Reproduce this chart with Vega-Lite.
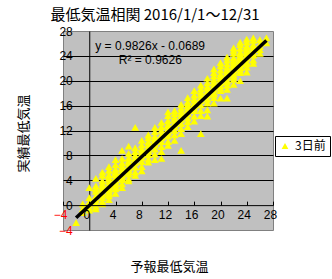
{
  "$schema": "https://vega.github.io/schema/vega-lite/v6.json",
  "width": 210,
  "height": 199,
  "autosize": "none",
  "padding": {"left": 63, "top": 31, "right": 59, "bottom": 49},
  "background": "white",
  "config": {
    "view": {"fill": "#c0c0c0", "stroke": "#808080", "strokeWidth": 1},
    "axis": {"labelFont": "Liberation Sans", "labelFontSize": 12, "titleFont": "Noto Sans CJK JP", "titleFontSize": 13, "titleFontWeight": "normal", "titleColor": "black", "domainColor": "black", "domainWidth": 1, "tickColor": "black", "labelOverlap": false, "labelFlush": false, "labelBound": false}
  },
  "title": {"text": "最低気温相関 2016/1/1～12/31", "font": "Noto Sans CJK JP", "fontSize": 15, "fontWeight": "normal", "anchor": "middle", "dx": -13, "dy": 1, "offset": 3, "color": "black"},
  "datasets": {
    "pts": [
      {"f": -2, "a": -2.8, "s": "3日前"},
      {"f": -1, "a": -1.2, "s": "3日前"}, {"f": -1, "a": 0.2, "s": "3日前"}, {"f": -1, "a": -0.6, "s": "3日前"},
      {"f": 0, "a": -0.8, "s": "3日前"}, {"f": 0, "a": 0.5, "s": "3日前"}, {"f": 0, "a": 1.2, "s": "3日前"}, {"f": 0, "a": -0.4, "s": "3日前"}, {"f": 0, "a": 2.8, "s": "3日前"}, {"f": 0, "a": 0.1, "s": "3日前"},
      {"f": 1, "a": 0.3, "s": "3日前"}, {"f": 1, "a": 1.5, "s": "3日前"}, {"f": 1, "a": 2.2, "s": "3日前"}, {"f": 1, "a": -0.6, "s": "3日前"}, {"f": 1, "a": 4.3, "s": "3日前"}, {"f": 1, "a": 1.0, "s": "3日前"}, {"f": 1, "a": 3.1, "s": "3日前"}, {"f": 1, "a": 0.8, "s": "3日前"}, {"f": 1, "a": 2.6, "s": "3日前"}, {"f": 1, "a": -0.2, "s": "3日前"},
      {"f": 2, "a": 1.2, "s": "3日前"}, {"f": 2, "a": 2.5, "s": "3日前"}, {"f": 2, "a": 3.4, "s": "3日前"}, {"f": 2, "a": 0.6, "s": "3日前"}, {"f": 2, "a": 4.8, "s": "3日前"}, {"f": 2, "a": 2.0, "s": "3日前"}, {"f": 2, "a": 3.0, "s": "3日前"}, {"f": 2, "a": 1.7, "s": "3日前"}, {"f": 2, "a": 5.3, "s": "3日前"}, {"f": 2, "a": 0.2, "s": "3日前"}, {"f": 2, "a": 2.8, "s": "3日前"}, {"f": 2, "a": 3.9, "s": "3日前"},
      {"f": 3, "a": 2.1, "s": "3日前"}, {"f": 3, "a": 3.3, "s": "3日前"}, {"f": 3, "a": 4.2, "s": "3日前"}, {"f": 3, "a": 1.5, "s": "3日前"}, {"f": 3, "a": 5.6, "s": "3日前"}, {"f": 3, "a": 2.7, "s": "3日前"}, {"f": 3, "a": 3.8, "s": "3日前"}, {"f": 3, "a": 0.9, "s": "3日前"}, {"f": 3, "a": 4.9, "s": "3日前"}, {"f": 3, "a": 3.0, "s": "3日前"}, {"f": 3, "a": 6.2, "s": "3日前"}, {"f": 3, "a": 2.4, "s": "3日前"}, {"f": 3, "a": 1.8, "s": "3日前"}, {"f": 3, "a": 4.5, "s": "3日前"},
      {"f": 4, "a": 3.2, "s": "3日前"}, {"f": 4, "a": 4.4, "s": "3日前"}, {"f": 4, "a": 5.1, "s": "3日前"}, {"f": 4, "a": 2.6, "s": "3日前"}, {"f": 4, "a": 6.5, "s": "3日前"}, {"f": 4, "a": 3.8, "s": "3日前"}, {"f": 4, "a": 4.9, "s": "3日前"}, {"f": 4, "a": 1.9, "s": "3日前"}, {"f": 4, "a": 5.8, "s": "3日前"}, {"f": 4, "a": 4.0, "s": "3日前"}, {"f": 4, "a": 7.3, "s": "3日前"}, {"f": 4, "a": 3.5, "s": "3日前"}, {"f": 4, "a": 2.9, "s": "3日前"}, {"f": 4, "a": 5.4, "s": "3日前"},
      {"f": 5, "a": 4.1, "s": "3日前"}, {"f": 5, "a": 5.3, "s": "3日前"}, {"f": 5, "a": 6.0, "s": "3日前"}, {"f": 5, "a": 3.4, "s": "3日前"}, {"f": 5, "a": 7.5, "s": "3日前"}, {"f": 5, "a": 4.7, "s": "3日前"}, {"f": 5, "a": 5.8, "s": "3日前"}, {"f": 5, "a": 2.8, "s": "3日前"}, {"f": 5, "a": 6.8, "s": "3日前"}, {"f": 5, "a": 5.0, "s": "3日前"}, {"f": 5, "a": 8.8, "s": "3日前"}, {"f": 5, "a": 4.4, "s": "3日前"}, {"f": 5, "a": 6.3, "s": "3日前"},
      {"f": 6, "a": 5.0, "s": "3日前"}, {"f": 6, "a": 6.3, "s": "3日前"}, {"f": 6, "a": 7.1, "s": "3日前"}, {"f": 6, "a": 4.2, "s": "3日前"}, {"f": 6, "a": 8.3, "s": "3日前"}, {"f": 6, "a": 5.7, "s": "3日前"}, {"f": 6, "a": 6.8, "s": "3日前"}, {"f": 6, "a": 3.9, "s": "3日前"}, {"f": 6, "a": 7.6, "s": "3日前"}, {"f": 6, "a": 6.0, "s": "3日前"}, {"f": 6, "a": 9.5, "s": "3日前"}, {"f": 6, "a": 5.4, "s": "3日前"},
      {"f": 7, "a": 6.1, "s": "3日前"}, {"f": 7, "a": 7.2, "s": "3日前"}, {"f": 7, "a": 8.0, "s": "3日前"}, {"f": 7, "a": 5.3, "s": "3日前"}, {"f": 7, "a": 9.2, "s": "3日前"}, {"f": 7, "a": 6.8, "s": "3日前"}, {"f": 7, "a": 12.5, "s": "3日前"}, {"f": 7, "a": 4.8, "s": "3日前"}, {"f": 7, "a": 8.6, "s": "3日前"}, {"f": 7, "a": 7.5, "s": "3日前"},
      {"f": 8, "a": 7.0, "s": "3日前"}, {"f": 8, "a": 8.3, "s": "3日前"}, {"f": 8, "a": 9.1, "s": "3日前"}, {"f": 8, "a": 6.2, "s": "3日前"}, {"f": 8, "a": 10.4, "s": "3日前"}, {"f": 8, "a": 7.6, "s": "3日前"}, {"f": 8, "a": 8.8, "s": "3日前"}, {"f": 8, "a": 5.5, "s": "3日前"}, {"f": 8, "a": 9.7, "s": "3日前"}, {"f": 8, "a": 8.0, "s": "3日前"},
      {"f": 9, "a": 8.1, "s": "3日前"}, {"f": 9, "a": 9.3, "s": "3日前"}, {"f": 9, "a": 10.2, "s": "3日前"}, {"f": 9, "a": 7.4, "s": "3日前"}, {"f": 9, "a": 11.3, "s": "3日前"}, {"f": 9, "a": 8.6, "s": "3日前"}, {"f": 9, "a": 9.8, "s": "3日前"}, {"f": 9, "a": 6.9, "s": "3日前"}, {"f": 9, "a": 10.8, "s": "3日前"}, {"f": 9, "a": 8.9, "s": "3日前"},
      {"f": 10, "a": 9.0, "s": "3日前"}, {"f": 10, "a": 10.4, "s": "3日前"}, {"f": 10, "a": 11.1, "s": "3日前"}, {"f": 10, "a": 8.2, "s": "3日前"}, {"f": 10, "a": 12.5, "s": "3日前"}, {"f": 10, "a": 9.7, "s": "3日前"}, {"f": 10, "a": 10.7, "s": "3日前"}, {"f": 10, "a": 7.3, "s": "3日前"}, {"f": 10, "a": 11.8, "s": "3日前"}, {"f": 10, "a": 10.0, "s": "3日前"},
      {"f": 11, "a": 10.2, "s": "3日前"}, {"f": 11, "a": 11.3, "s": "3日前"}, {"f": 11, "a": 12.0, "s": "3日前"}, {"f": 11, "a": 9.4, "s": "3日前"}, {"f": 11, "a": 13.3, "s": "3日前"}, {"f": 11, "a": 7.5, "s": "3日前"}, {"f": 11, "a": 10.8, "s": "3日前"}, {"f": 11, "a": 8.6, "s": "3日前"}, {"f": 11, "a": 12.6, "s": "3日前"}, {"f": 11, "a": 11.0, "s": "3日前"},
      {"f": 12, "a": 11.1, "s": "3日前"}, {"f": 12, "a": 12.3, "s": "3日前"}, {"f": 12, "a": 13.0, "s": "3日前"}, {"f": 12, "a": 10.2, "s": "3日前"}, {"f": 12, "a": 14.4, "s": "3日前"}, {"f": 12, "a": 11.6, "s": "3日前"}, {"f": 12, "a": 15.0, "s": "3日前"}, {"f": 12, "a": 9.6, "s": "3日前"}, {"f": 12, "a": 12.8, "s": "3日前"}, {"f": 12, "a": 11.9, "s": "3日前"}, {"f": 12, "a": 13.6, "s": "3日前"},
      {"f": 13, "a": 12.0, "s": "3日前"}, {"f": 13, "a": 13.2, "s": "3日前"}, {"f": 13, "a": 14.1, "s": "3日前"}, {"f": 13, "a": 11.3, "s": "3日前"}, {"f": 13, "a": 15.2, "s": "3日前"}, {"f": 13, "a": 12.6, "s": "3日前"}, {"f": 13, "a": 13.8, "s": "3日前"}, {"f": 13, "a": 10.4, "s": "3日前"}, {"f": 13, "a": 14.7, "s": "3日前"}, {"f": 13, "a": 12.9, "s": "3日前"},
      {"f": 14, "a": 13.1, "s": "3日前"}, {"f": 14, "a": 14.4, "s": "3日前"}, {"f": 14, "a": 15.1, "s": "3日前"}, {"f": 14, "a": 12.3, "s": "3日前"}, {"f": 14, "a": 16.2, "s": "3日前"}, {"f": 14, "a": 8.8, "s": "3日前"}, {"f": 14, "a": 14.8, "s": "3日前"}, {"f": 14, "a": 11.5, "s": "3日前"}, {"f": 14, "a": 15.6, "s": "3日前"}, {"f": 14, "a": 13.8, "s": "3日前"},
      {"f": 15, "a": 14.0, "s": "3日前"}, {"f": 15, "a": 15.3, "s": "3日前"}, {"f": 15, "a": 16.2, "s": "3日前"}, {"f": 15, "a": 13.4, "s": "3日前"}, {"f": 15, "a": 17.3, "s": "3日前"}, {"f": 15, "a": 14.7, "s": "3日前"}, {"f": 15, "a": 15.8, "s": "3日前"}, {"f": 15, "a": 12.6, "s": "3日前"}, {"f": 15, "a": 16.6, "s": "3日前"}, {"f": 15, "a": 14.9, "s": "3日前"},
      {"f": 16, "a": 15.2, "s": "3日前"}, {"f": 16, "a": 16.3, "s": "3日前"}, {"f": 16, "a": 17.1, "s": "3日前"}, {"f": 16, "a": 14.3, "s": "3日前"}, {"f": 16, "a": 18.4, "s": "3日前"}, {"f": 16, "a": 15.6, "s": "3日前"}, {"f": 16, "a": 16.9, "s": "3日前"}, {"f": 16, "a": 13.5, "s": "3日前"}, {"f": 16, "a": 17.7, "s": "3日前"}, {"f": 16, "a": 16.0, "s": "3日前"},
      {"f": 17, "a": 16.1, "s": "3日前"}, {"f": 17, "a": 17.3, "s": "3日前"}, {"f": 17, "a": 18.2, "s": "3日前"}, {"f": 17, "a": 15.2, "s": "3日前"}, {"f": 17, "a": 19.3, "s": "3日前"}, {"f": 17, "a": 11.5, "s": "3日前"}, {"f": 17, "a": 17.8, "s": "3日前"}, {"f": 17, "a": 14.4, "s": "3日前"}, {"f": 17, "a": 18.7, "s": "3日前"}, {"f": 17, "a": 16.8, "s": "3日前"},
      {"f": 18, "a": 17.0, "s": "3日前"}, {"f": 18, "a": 18.3, "s": "3日前"}, {"f": 18, "a": 19.1, "s": "3日前"}, {"f": 18, "a": 16.4, "s": "3日前"}, {"f": 18, "a": 20.4, "s": "3日前"}, {"f": 18, "a": 17.7, "s": "3日前"}, {"f": 18, "a": 18.8, "s": "3日前"}, {"f": 18, "a": 15.3, "s": "3日前"}, {"f": 18, "a": 19.7, "s": "3日前"}, {"f": 18, "a": 17.9, "s": "3日前"}, {"f": 18, "a": 14.3, "s": "3日前"},
      {"f": 19, "a": 18.1, "s": "3日前"}, {"f": 19, "a": 19.4, "s": "3日前"}, {"f": 19, "a": 20.2, "s": "3日前"}, {"f": 19, "a": 17.3, "s": "3日前"}, {"f": 19, "a": 21.3, "s": "3日前"}, {"f": 19, "a": 18.6, "s": "3日前"}, {"f": 19, "a": 19.8, "s": "3日前"}, {"f": 19, "a": 16.4, "s": "3日前"}, {"f": 19, "a": 20.8, "s": "3日前"}, {"f": 19, "a": 19.0, "s": "3日前"}, {"f": 19, "a": 17.8, "s": "3日前"}, {"f": 19, "a": 21.9, "s": "3日前"},
      {"f": 20, "a": 19.2, "s": "3日前"}, {"f": 20, "a": 20.3, "s": "3日前"}, {"f": 20, "a": 21.1, "s": "3日前"}, {"f": 20, "a": 18.4, "s": "3日前"}, {"f": 20, "a": 22.4, "s": "3日前"}, {"f": 20, "a": 19.7, "s": "3日前"}, {"f": 20, "a": 20.8, "s": "3日前"}, {"f": 20, "a": 17.2, "s": "3日前"}, {"f": 20, "a": 21.7, "s": "3日前"}, {"f": 20, "a": 19.9, "s": "3日前"}, {"f": 20, "a": 22.9, "s": "3日前"}, {"f": 20, "a": 18.8, "s": "3日前"}, {"f": 20, "a": 20.5, "s": "3日前"},
      {"f": 21, "a": 20.1, "s": "3日前"}, {"f": 21, "a": 21.3, "s": "3日前"}, {"f": 21, "a": 22.2, "s": "3日前"}, {"f": 21, "a": 19.3, "s": "3日前"}, {"f": 21, "a": 23.3, "s": "3日前"}, {"f": 21, "a": 20.6, "s": "3日前"}, {"f": 21, "a": 21.8, "s": "3日前"}, {"f": 21, "a": 17.2, "s": "3日前"}, {"f": 21, "a": 22.7, "s": "3日前"}, {"f": 21, "a": 20.9, "s": "3日前"}, {"f": 21, "a": 23.8, "s": "3日前"}, {"f": 21, "a": 19.8, "s": "3日前"}, {"f": 21, "a": 21.5, "s": "3日前"}, {"f": 21, "a": 18.6, "s": "3日前"},
      {"f": 22, "a": 21.0, "s": "3日前"}, {"f": 22, "a": 22.3, "s": "3日前"}, {"f": 22, "a": 23.1, "s": "3日前"}, {"f": 22, "a": 20.2, "s": "3日前"}, {"f": 22, "a": 24.4, "s": "3日前"}, {"f": 22, "a": 21.7, "s": "3日前"}, {"f": 22, "a": 22.8, "s": "3日前"}, {"f": 22, "a": 19.4, "s": "3日前"}, {"f": 22, "a": 23.7, "s": "3日前"}, {"f": 22, "a": 21.9, "s": "3日前"}, {"f": 22, "a": 24.9, "s": "3日前"}, {"f": 22, "a": 20.6, "s": "3日前"}, {"f": 22, "a": 22.5, "s": "3日前"}, {"f": 22, "a": 25.3, "s": "3日前"}, {"f": 22, "a": 21.4, "s": "3日前"}, {"f": 22, "a": 23.4, "s": "3日前"},
      {"f": 23, "a": 22.1, "s": "3日前"}, {"f": 23, "a": 23.2, "s": "3日前"}, {"f": 23, "a": 24.0, "s": "3日前"}, {"f": 23, "a": 21.3, "s": "3日前"}, {"f": 23, "a": 25.2, "s": "3日前"}, {"f": 23, "a": 22.6, "s": "3日前"}, {"f": 23, "a": 23.8, "s": "3日前"}, {"f": 23, "a": 20.0, "s": "3日前"}, {"f": 23, "a": 24.6, "s": "3日前"}, {"f": 23, "a": 22.9, "s": "3日前"}, {"f": 23, "a": 25.8, "s": "3日前"}, {"f": 23, "a": 21.7, "s": "3日前"}, {"f": 23, "a": 23.5, "s": "3日前"}, {"f": 23, "a": 26.2, "s": "3日前"}, {"f": 23, "a": 22.3, "s": "3日前"}, {"f": 23, "a": 24.3, "s": "3日前"},
      {"f": 24, "a": 23.0, "s": "3日前"}, {"f": 24, "a": 24.3, "s": "3日前"}, {"f": 24, "a": 25.1, "s": "3日前"}, {"f": 24, "a": 22.2, "s": "3日前"}, {"f": 24, "a": 26.2, "s": "3日前"}, {"f": 24, "a": 23.6, "s": "3日前"}, {"f": 24, "a": 24.8, "s": "3日前"}, {"f": 24, "a": 21.4, "s": "3日前"}, {"f": 24, "a": 25.6, "s": "3日前"}, {"f": 24, "a": 23.9, "s": "3日前"}, {"f": 24, "a": 26.7, "s": "3日前"}, {"f": 24, "a": 22.7, "s": "3日前"}, {"f": 24, "a": 24.5, "s": "3日前"}, {"f": 24, "a": 25.4, "s": "3日前"},
      {"f": 25, "a": 24.1, "s": "3日前"}, {"f": 25, "a": 25.0, "s": "3日前"}, {"f": 25, "a": 25.8, "s": "3日前"}, {"f": 25, "a": 23.3, "s": "3日前"}, {"f": 25, "a": 26.5, "s": "3日前"}, {"f": 25, "a": 24.6, "s": "3日前"}, {"f": 25, "a": 25.4, "s": "3日前"}, {"f": 25, "a": 22.8, "s": "3日前"}, {"f": 25, "a": 26.9, "s": "3日前"}, {"f": 25, "a": 24.2, "s": "3日前"},
      {"f": 26, "a": 25.0, "s": "3日前"}, {"f": 26, "a": 25.9, "s": "3日前"}, {"f": 26, "a": 26.6, "s": "3日前"}, {"f": 26, "a": 24.4, "s": "3日前"}, {"f": 26, "a": 25.5, "s": "3日前"},
      {"f": 27, "a": 26.1, "s": "3日前"}, {"f": 27, "a": 26.9, "s": "3日前"}
    ],
    "trend": [
      {"f": -2, "a": -2.034},
      {"f": 27, "a": 26.461}
    ],
    "notes": [
      {"t": "y = 0.9826x - 0.0689", "k": "eq"},
      {"t": "R² = 0.9626", "k": "r2"}
    ]
  },
  "layer": [
    {
      "encoding": {
        "x": {
          "field": "f", "type": "quantitative",
          "scale": {"domain": [-4, 28], "nice": false, "zero": false},
          "axis": {
            "title": "予報最低気温", "titleX": 106, "titleY": 61, "titleBaseline": "middle", "titleAlign": "center",
            "values": [-4, 0, 4, 8, 12, 16, 20, 24, 28], "zindex": 1,
            "offset": -24.875, "grid": false, "domain": true, "ticks": true, "tickSize": -4,
            "labelPadding": 8, "labelOffset": -3, "labelFlush": false, "labelOverlap": false, "labelBound": false,
            "labelColor": {"condition": {"test": "datum.value === -4", "value": "#ff0000"}, "value": "black"}
          }
        },
        "y": {
          "field": "a", "type": "quantitative",
          "scale": {"domain": [-4, 28], "nice": false, "zero": false},
          "axis": {
            "title": "実績最低気温", "titleX": -66, "titleY": 102, "titleAngle": -90, "titleBaseline": "middle", "titleAlign": "center",
            "values": [-4, 0, 4, 8, 12, 16, 20, 24, 28],
            "offset": -26.25, "domain": true, "ticks": false, "labelPadding": 17, "labelFlush": false, "labelOverlap": false, "labelBound": false,
            "grid": true, "gridOpacity": 1, "gridWidth": 1,
            "gridColor": {"condition": {"test": "datum.value === -4 || datum.value === 28 || datum.value === 0", "value": "transparent"}, "value": "black"},
            "labelColor": {"condition": {"test": "datum.value === -4", "value": "#ff0000"}, "value": "black"}
          }
        }
      },
      "layer": [
        {
          "data": {"name": "pts"},
          "mark": {"type": "point", "shape": "triangle-up", "filled": true, "size": 60, "opacity": 1},
          "encoding": {
            "color": {
              "field": "s", "type": "nominal",
              "scale": {"domain": ["3日前"], "range": ["#ffff00"]},
              "legend": {
                "orient": "none", "legendX": 212, "legendY": 105, "title": null,
                "strokeColor": "black", "fillColor": "white", "padding": 4,
                "labelFont": "Noto Sans CJK JP", "labelFontSize": 12, "labelColor": "black",
                "symbolType": "triangle-up", "symbolSize": 45, "symbolStrokeWidth": 0, "symbolOpacity": 1
              }
            }
          }
        },
        {
          "data": {"name": "trend"},
          "mark": {"type": "line", "color": "black", "strokeWidth": 3.5}
        }
      ]
    },
    {
      "data": {"name": "notes"},
      "transform": [{"filter": "datum.k === 'eq'"}],
      "mark": {"type": "text", "align": "left", "baseline": "middle", "font": "Liberation Sans", "fontSize": 12, "color": "black"},
      "encoding": {
        "x": {
          "datum": 0.92, "type": "quantitative",
          "axis": {
            "title": "予報最低気温", "titleX": 106, "titleY": 61, "titleBaseline": "middle", "titleAlign": "center",
            "values": [-4, 0, 4, 8, 12, 16, 20, 24, 28], "zindex": 1,
            "offset": -24.875, "grid": false, "domain": true, "ticks": true, "tickSize": -4,
            "labelPadding": 8, "labelOffset": -3, "labelFlush": false, "labelOverlap": false, "labelBound": false,
            "labelColor": {"condition": {"test": "datum.value === -4", "value": "#ff0000"}, "value": "black"}
          }
        },
        "y": {
          "datum": 25.6, "type": "quantitative",
          "axis": {
            "title": "実績最低気温", "titleX": -66, "titleY": 102, "titleAngle": -90, "titleBaseline": "middle", "titleAlign": "center",
            "values": [-4, 0, 4, 8, 12, 16, 20, 24, 28],
            "offset": -26.25, "domain": true, "ticks": false, "labelPadding": 17, "labelFlush": false, "labelOverlap": false, "labelBound": false,
            "grid": true, "gridOpacity": 1, "gridWidth": 1,
            "gridColor": {"condition": {"test": "datum.value === -4 || datum.value === 28 || datum.value === 0", "value": "transparent"}, "value": "black"},
            "labelColor": {"condition": {"test": "datum.value === -4", "value": "#ff0000"}, "value": "black"}
          }
        },
        "text": {"field": "t"}
      }
    },
    {
      "data": {"name": "notes"},
      "transform": [{"filter": "datum.k === 'r2'"}],
      "mark": {"type": "text", "align": "left", "baseline": "middle", "font": "Liberation Sans", "fontSize": 12, "color": "black"},
      "encoding": {
        "x": {
          "datum": 4.5, "type": "quantitative",
          "axis": {
            "title": "予報最低気温", "titleX": 106, "titleY": 61, "titleBaseline": "middle", "titleAlign": "center",
            "values": [-4, 0, 4, 8, 12, 16, 20, 24, 28], "zindex": 1,
            "offset": -24.875, "grid": false, "domain": true, "ticks": true, "tickSize": -4,
            "labelPadding": 8, "labelOffset": -3, "labelFlush": false, "labelOverlap": false, "labelBound": false,
            "labelColor": {"condition": {"test": "datum.value === -4", "value": "#ff0000"}, "value": "black"}
          }
        },
        "y": {
          "datum": 23.3, "type": "quantitative",
          "axis": {
            "title": "実績最低気温", "titleX": -66, "titleY": 102, "titleAngle": -90, "titleBaseline": "middle", "titleAlign": "center",
            "values": [-4, 0, 4, 8, 12, 16, 20, 24, 28],
            "offset": -26.25, "domain": true, "ticks": false, "labelPadding": 17, "labelFlush": false, "labelOverlap": false, "labelBound": false,
            "grid": true, "gridOpacity": 1, "gridWidth": 1,
            "gridColor": {"condition": {"test": "datum.value === -4 || datum.value === 28 || datum.value === 0", "value": "transparent"}, "value": "black"},
            "labelColor": {"condition": {"test": "datum.value === -4", "value": "#ff0000"}, "value": "black"}
          }
        },
        "text": {"field": "t"}
      }
    }
  ]
}
